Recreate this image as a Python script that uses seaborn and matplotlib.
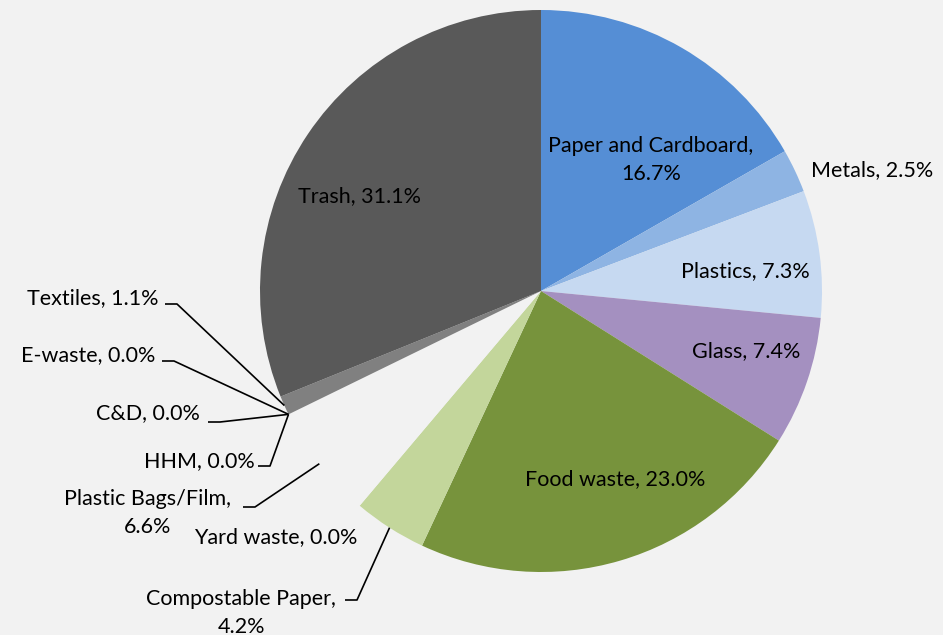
import matplotlib
matplotlib.use("Agg")
import numpy as np
import matplotlib.pyplot as plt
import seaborn as sns

# waste composition, clockwise from 12 o'clock
categories = ["Paper and Cardboard", "Metals", "Plastics", "Glass", "Food waste",
              "Yard waste", "Compostable Paper", "Plastic Bags/Film", "HHM", "C&D",
              "E-waste", "Textiles", "Trash"]
shares = [16.7, 2.5, 7.3, 7.4, 23.0, 0.0, 4.2, 6.6, 0.0, 0.0, 0.0, 1.1, 31.1]
colors = ["#558ED5", "#8EB4E3", "#C6D9F1", "#A490C0", "#77933C", "#9BBB59",
          "#C3D69B", "#F2F2F2", "#4F81BD", "#C0504D", "#F79646", "#808080", "#595959"]

# label text, anchor (image pixels) and whether it gets a leader line
label_text = ["Paper and Cardboard,\n16.7%", "Metals, 2.5%", "Plastics, 7.3%", "Glass, 7.4%",
              "Food waste, 23.0%", "Yard waste, 0.0%", "Compostable Paper,\n4.2%",
              "Plastic Bags/Film,\n6.6%", "HHM, 0.0%", "C&D, 0.0%", "E-waste, 0.0%",
              "Textiles, 1.1%", "Trash, 31.1%"]
label_pos = [(651, 160), (872, 170), (745, 271), (746, 351), (615, 479), (276, 537),
             (241, 613), (148, 513), (199, 461), (148, 413), (88, 355), (93, 298), (359, 196)]
leader_from = [None, None, None, None, None, None, (345, 600), (243, 507),
               (258, 466), (208, 422), (162, 361), (165, 304), None]

bg = "#F2F2F2"
sns.set_theme(style="white", rc={"figure.facecolor": bg, "axes.facecolor": bg})
plt.rcParams["font.family"] = ["Lato", "DejaVu Sans"]

fig = plt.figure(figsize=(9.43, 6.35), dpi=100)
ax = fig.add_axes([0, 0, 1, 1])

cx, cy, r = 541, 291, 281
wedges, _ = ax.pie(shares, colors=colors, startangle=-90, counterclock=True,
                   center=(cx, cy), radius=r, frame=True,
                   wedgeprops=dict(linewidth=0, antialiased=True))
ax.set_xlim(0, 943)
ax.set_ylim(635, 0)
ax.set_aspect("equal")
ax.axis("off")

for w, txt, pos, lf in zip(wedges, label_text, label_pos, leader_from):
    ax.text(pos[0], pos[1], txt, ha="center", va="center", fontsize=15.5,
            color="black", linespacing=1.45)
    if lf is not None:
        mid = np.deg2rad((w.theta1 + w.theta2) / 2)
        ex, ey = cx + r * np.cos(mid), cy + r * np.sin(mid)
        ax.plot([lf[0], lf[0] + 12, ex], [lf[1], lf[1], ey], color="black", lw=1.2,
                solid_capstyle="butt")

fig.savefig("out.png", dpi=100, facecolor=bg)
